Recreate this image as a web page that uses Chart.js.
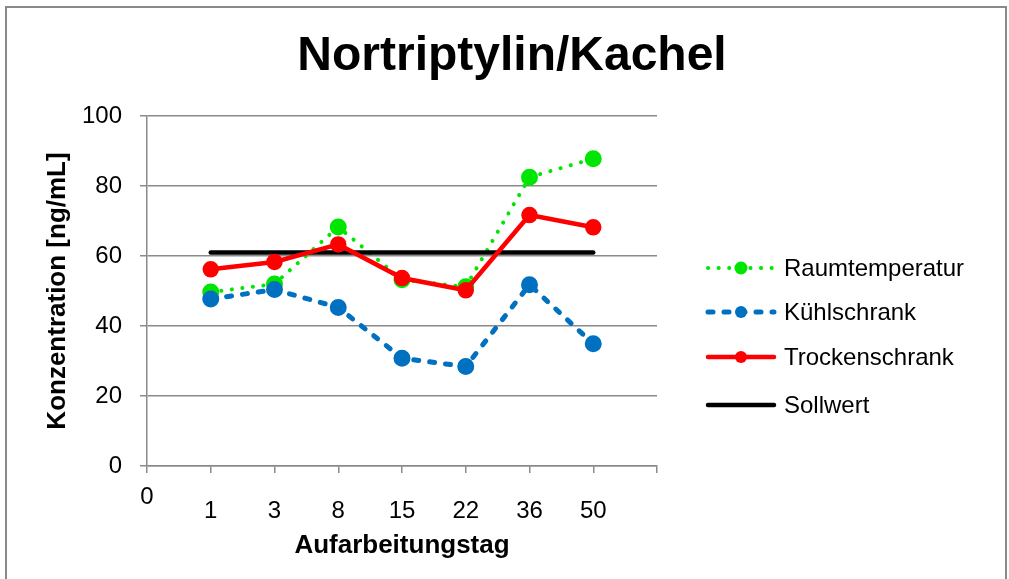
<!DOCTYPE html>
<html>
<head>
<meta charset="utf-8">
<script src="https://cdn.jsdelivr.net/npm/chart.js@4"></script>
<style>
  html, body { margin: 0; padding: 0; background: #fff; }
  #wrap { width: 1009px; height: 579px; }
</style>
</head>
<body>
<div id="wrap"><canvas id="myChart"></canvas></div>
<script>
const days = ['1', '3', '8', '15', '22', '36', '50'];
const raumtemperatur = [49.7, 52.0, 68.3, 53.2, 51.2, 82.5, 87.8];
const kuehlschrank = [47.7, 50.4, 45.3, 30.8, 28.4, 51.8, 34.9];
const trockenschrank = [56.2, 58.3, 63.3, 53.7, 50.2, 71.7, 68.2];
const sollwert = [61, 61, 61, 61, 61, 61, 61];
const yTicks = [0, 20, 40, 60, 80, 100];

// category axis has an empty slot before and after the days
const labels = ['0', ...days, ''];
const pad = arr => [null, ...arr, null];

const FONT = "'Liberation Sans', Arial, sans-serif";
const gridGray = '#8a8a8a';
const chartTitle = 'Nortriptylin/Kachel';

const ctx = document.getElementById('myChart');

const extras = {
    id: 'extras',
    beforeDraw(chart) {
        const c = chart.ctx;
        c.save();
        c.fillStyle = '#fff';
        c.fillRect(0, 0, chart.width, chart.height);
        c.strokeStyle = '#898989';
        c.lineWidth = 2;
        c.strokeRect(6, 7, 1000, 620);
        c.restore();
    },
    afterDraw(chart) {
        const c = chart.ctx;
        const x = chart.scales.x;
        c.save();
        // title centred on the whole picture
        c.font = 'bold 48px ' + FONT;
        c.fillStyle = '#000';
        c.textAlign = 'center';
        c.textBaseline = 'middle';
        c.fillText(chartTitle, 512, 57);

        // the lone "0" under the axis origin sits a bit higher
        c.font = '24px ' + FONT;
        c.fillText(labels[0], x.getPixelForValue(0), 497);

        // legend
        const rows = [268, 312, 357, 405];
        [0, 1, 2, 3].forEach((di, i) => {
            const ds = chart.data.datasets[di];
            const y = rows[i];
            c.strokeStyle = ds.borderColor;
            c.lineWidth = ds.borderWidth;
            c.lineCap = ds.borderCapStyle || 'butt';
            c.setLineDash(ds.borderDash || []);
            c.beginPath();
            c.moveTo(708, y);
            c.lineTo(774, y);
            c.stroke();
            c.setLineDash([]);
            if (ds.pointRadius > 0) {
                c.fillStyle = ds.backgroundColor;
                c.beginPath();
                c.arc(741, y, ds.pointRadius, 0, Math.PI * 2);
                c.fill();
            }
            c.fillStyle = '#000';
            c.textAlign = 'left';
            c.fillText(ds.label, 784, y + 1);
        });
        c.restore();
    }
};

new Chart(ctx, {
    type: 'line',
    data: {
        labels: labels,
        datasets: [
            {
                label: 'Raumtemperatur',
                data: pad(raumtemperatur),
                borderColor: '#00e600',
                backgroundColor: '#00e600',
                borderWidth: 4,
                borderDash: [0.1, 10.5],
                borderCapStyle: 'round',
                pointRadius: 6.5,
                order: 4
            },
            {
                label: 'Kühlschrank',
                data: pad(kuehlschrank),
                borderColor: '#0070c0',
                backgroundColor: '#0070c0',
                borderWidth: 5,
                borderDash: [5, 11],
                borderCapStyle: 'round',
                pointRadius: 6,
                order: 3
            },
            {
                label: 'Trockenschrank',
                data: pad(trockenschrank),
                borderColor: '#ff0000',
                backgroundColor: '#ff0000',
                borderWidth: 4.5,
                borderCapStyle: 'round',
                pointRadius: 6,
                order: 1
            },
            {
                label: 'Sollwert',
                data: pad(sollwert),
                borderColor: '#000',
                backgroundColor: '#000',
                borderWidth: 4.5,
                borderCapStyle: 'round',
                pointRadius: 0,
                order: 2
            }
        ]
    },
    options: {
        responsive: true,
        maintainAspectRatio: false,
        animation: false,
        events: [],
        layout: { padding: { left: 0, right: 352, top: 116, bottom: 0 } },
        elements: {
            line: { tension: 0, fill: false },
            point: { borderWidth: 0, hoverRadius: 0 }
        },
        plugins: {
            legend: { display: false },
            tooltip: { enabled: false },
            title: { display: false }
        },
        scales: {
            x: {
                type: 'category',
                offset: false,
                grid: {
                    drawOnChartArea: false,
                    drawTicks: true,
                    tickLength: 7,
                    color: gridGray,
                    lineWidth: 1.5
                },
                border: { color: gridGray, width: 1.5 },
                ticks: {
                    autoSkip: false,
                    maxRotation: 0,
                    padding: 24,
                    color: '#000',
                    font: { family: FONT, size: 24 },
                    callback: (v, i) => (i === 0 ? '' : labels[i])
                },
                title: {
                    display: true,
                    text: 'Aufarbeitungstag',
                    color: '#000',
                    font: { family: FONT, size: 26, weight: 'bold', lineHeight: 1.2 },
                    padding: { top: 0, bottom: 18 }
                },
                afterFit(s) { s.height = 579 - 466; }
            },
            y: {
                min: 0,
                max: 100,
                afterBuildTicks(s) { s.ticks = yTicks.map(v => ({ value: v })); },
                grid: {
                    color: gridGray,
                    lineWidth: 1.5,
                    drawTicks: true,
                    tickLength: 7
                },
                border: { color: gridGray, width: 1.5 },
                ticks: {
                    padding: 18,
                    color: '#000',
                    font: { family: FONT, size: 24 }
                },
                title: {
                    display: true,
                    text: 'Konzentration [ng/mL]',
                    color: '#000',
                    font: { family: FONT, size: 26, weight: 'bold', lineHeight: 1.2 },
                    padding: { top: 42, bottom: 0 }
                },
                afterFit(s) { s.width = 147; }
            }
        }
    },
    plugins: [extras]
});
</script>
</body>
</html>
